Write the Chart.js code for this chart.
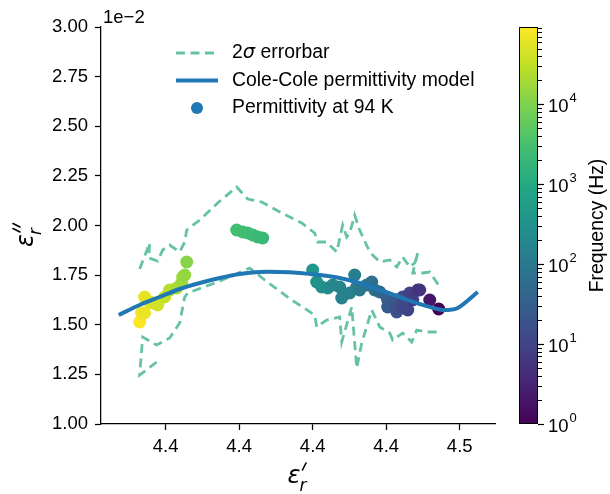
<!DOCTYPE html>
<html>
<head>
<meta charset="utf-8">
<script src="https://cdn.jsdelivr.net/npm/chart.js@4.4.1/dist/chart.umd.min.js"></script>
<style>
  html, body { margin: 0; padding: 0; background: #ffffff; }
  canvas { display: block; }
</style>
</head>
<body>
<canvas id="chart" width="610" height="494"></canvas>
<script>
// Measured permittivity at 94 K (eps'' shown in units of 1e-2)
const epsReal = [
  4.40646, 4.40673, 4.40714, 4.40714, 4.40782, 4.40823, 4.40891, 4.40986, 4.41054, 4.41150,
  4.41218, 4.41231, 4.41259, 4.41286, 4.41966, 4.42048, 4.42116, 4.42184, 4.42252, 4.42320,
  4.43000, 4.43054, 4.43122, 4.43204, 4.43272, 4.43367, 4.43395, 4.43503, 4.43571, 4.43599,
  4.43639, 4.43735, 4.43803, 4.43844, 4.43912, 4.44007, 4.44020, 4.44020, 4.44143, 4.44143,
  4.44156, 4.44224, 4.44224, 4.44293, 4.44320, 4.44361, 4.44429, 4.44456, 4.44592, 4.44714
];
const epsImag = [
  1.5139, 1.5592, 1.5592, 1.6398, 1.6146, 1.6096, 1.5995, 1.6398, 1.6751, 1.6851,
  1.7103, 1.7406, 1.7506, 1.8161, 1.9773, 1.9673, 1.9622, 1.9521, 1.9421, 1.9370,
  1.7758, 1.7154, 1.6902, 1.6851, 1.7003, 1.6902, 1.6348, 1.6599, 1.7506, 1.6902,
  1.6751, 1.7003, 1.7154, 1.6751, 1.6650, 1.6398, 1.6247, 1.5894, 1.6247, 1.5642,
  1.5844, 1.6398, 1.5894, 1.5743, 1.6599, 1.6247, 1.6751, 1.6751, 1.6247, 1.5793
];
const freqHz = [
  93000, 74000, 66000, 59000, 52500, 47000, 42000, 33000, 26500, 21000,
  18800, 16700, 14900, 12000, 3000, 2700, 2500, 2400, 2250, 2140,
  382, 340, 305, 245, 194, 173, 154, 137, 122, 109,
  97, 77, 69, 61, 49, 35, 31, 25, 22, 17.5,
  15.6, 12.4, 11, 9.8, 8.8, 7.8, 6.3, 5.6, 2.0, 1.0
];

// Cole-Cole model curve
const modelReal = [4.40361, 4.40646, 4.40918, 4.41190, 4.41463, 4.41735, 4.42007, 4.42279, 4.42551, 4.42823,
                   4.43095, 4.43367, 4.43639, 4.43912, 4.44184, 4.44456, 4.44769, 4.44973, 4.45245];
const modelImag = [1.5491, 1.5995, 1.6398, 1.6801, 1.7103, 1.7355, 1.7557, 1.7657, 1.7657, 1.7607,
                   1.7506, 1.7355, 1.7103, 1.6751, 1.6398, 1.6045, 1.5743, 1.5844, 1.6650];

// 2-sigma error envelope (upper and lower)
const upperReal = [4.40646, 4.40782, 4.40769, 4.40891, 4.40959, 4.41054, 4.41190, 4.41259, 4.41286, 4.41463,
                   4.41707, 4.41966, 4.42116, 4.42306, 4.42578, 4.42850, 4.43027, 4.43068, 4.43190, 4.43327,
                   4.43408, 4.43463, 4.43503, 4.43571, 4.43639, 4.43776, 4.43912, 4.44048, 4.44143, 4.44224,
                   4.44320, 4.44388, 4.44429, 4.44361, 4.44497, 4.44592, 4.44728];
const upperImag = [1.7809, 1.9118, 1.8363, 1.8212, 1.8766, 1.9018, 1.8665, 1.9169, 1.9773, 2.0277,
                   2.1134, 2.1940, 2.1335, 2.1184, 2.0630, 2.0126, 1.9622, 1.9169, 1.9169, 1.8665,
                   2.0025, 1.9421, 1.9622, 2.0529, 1.9773, 1.8665, 1.8161, 1.8262, 1.7909, 1.8413,
                   1.7909, 1.8111, 1.8615, 1.7607, 1.7607, 1.7657, 1.6902];
const lowerReal = [4.40878, 4.40646, 4.40687, 4.40878, 4.41054, 4.41190, 4.41259, 4.41299, 4.41707, 4.42143,
                   4.42347, 4.42714, 4.43027, 4.43054, 4.43190, 4.43367, 4.43395, 4.43531, 4.43599, 4.43667,
                   4.43803, 4.43912, 4.44048, 4.44088, 4.44224, 4.44347, 4.44415, 4.44551, 4.44701];
const lowerImag = [1.3123, 1.2469, 1.4383, 1.3980, 1.4332, 1.5088, 1.6398, 1.6599, 1.7154, 1.7859,
                   1.7254, 1.6247, 1.5491, 1.4887, 1.5239, 1.5390, 1.4131, 1.5894, 1.2821, 1.4081,
                   1.5743, 1.4887, 1.4584, 1.4232, 1.4584, 1.4131, 1.4736, 1.4635, 1.4635];

// Axis ticks
const xTickValues = [4.41, 4.42, 4.43, 4.44, 4.45];
const xTickLabels = ['4.4', '4.4', '4.4', '4.4', '4.5'];
const yTickValues = [1.00, 1.25, 1.50, 1.75, 2.00, 2.25, 2.50, 2.75, 3.00];
const cbarDecades = [0, 1, 2, 3, 4];
const freqMin = 1;
const freqMax = 93000;

// viridis colormap (deciles)
const VIRIDIS = ['#440154', '#482475', '#414487', '#355f8d', '#2a788e', '#21918c',
                 '#22a884', '#44bf70', '#7ad151', '#bddf26', '#fde725'];
function hexToRgb(h) {
  return [parseInt(h.slice(1, 3), 16), parseInt(h.slice(3, 5), 16), parseInt(h.slice(5, 7), 16)];
}
function viridis(t) {
  t = Math.min(1, Math.max(0, t));
  const s = t * 10;
  const i = Math.min(9, Math.floor(s));
  const f = s - i;
  const a = hexToRgb(VIRIDIS[i]), b = hexToRgb(VIRIDIS[i + 1]);
  const c = a.map((v, k) => Math.round(v + (b[k] - v) * f));
  return `rgb(${c[0]},${c[1]},${c[2]})`;
}
function freqNorm(f) {
  return (Math.log10(f) - Math.log10(freqMin)) / (Math.log10(freqMax) - Math.log10(freqMin));
}

const SANS = '"Liberation Sans", Arial, Helvetica, sans-serif';
const MATH = '"DejaVu Sans", sans-serif';
const ERR_COLOR = '#66c2a5';
const MODEL_COLOR = '#1f77b4';

function zip(xs, ys) { return xs.map((x, i) => ({ x: x, y: ys[i] })); }

// eps symbol with prime strokes and subscript r
function drawEps(ctx, cx, cy, nPrimes, rot) {
  ctx.save();
  ctx.translate(cx, cy);
  ctx.rotate(rot);
  ctx.textAlign = 'left';
  ctx.textBaseline = 'alphabetic';
  ctx.fillStyle = '#000';
  ctx.strokeStyle = '#000';
  ctx.font = 'italic 24px ' + MATH;
  const we = ctx.measureText('\u03b5').width;
  ctx.font = 'italic 17px ' + MATH;
  const wr = ctx.measureText('r').width;
  const wp = 3 + nPrimes * 5;
  const total = we + Math.max(wp, wr);
  const x0 = -total / 2;
  ctx.font = 'italic 24px ' + MATH;
  ctx.fillText('\u03b5', x0, 5);
  // slanted prime strokes
  ctx.lineWidth = 1.6;
  ctx.lineCap = 'round';
  for (let k = 0; k < nPrimes; k++) {
    const px = x0 + we + 2 + k * 5;
    ctx.beginPath();
    ctx.moveTo(px + 3.5, -15);
    ctx.lineTo(px, -8);
    ctx.stroke();
  }
  ctx.font = 'italic 17px ' + MATH;
  ctx.fillText('r', x0 + we - 1, 13);
  ctx.restore();
}

const decor = {
  id: 'decor',
  afterDraw(chart) {
    const ctx = chart.ctx;
    const ca = chart.chartArea;
    ctx.save();
    ctx.fillStyle = '#000';

    // offset text for the y axis
    ctx.font = '18.5px ' + SANS;
    ctx.textAlign = 'left';
    ctx.textBaseline = 'alphabetic';
    ctx.fillText('1e\u22122', ca.left + 2, 23);

    // axis labels
    drawEps(ctx, (ca.left + ca.right) / 2, 478, 1, 0);
    drawEps(ctx, 28, 234, 2, -Math.PI / 2);

    // legend
    const lx0 = 176, lx1 = 218, tx = 232;
    const rows = [53, 80.5, 108];
    ctx.lineCap = 'butt';
    ctx.strokeStyle = ERR_COLOR;
    ctx.lineWidth = 2.8;
    ctx.setLineDash([9, 5.5]);
    ctx.beginPath(); ctx.moveTo(lx0, rows[0]); ctx.lineTo(lx1, rows[0]); ctx.stroke();
    ctx.setLineDash([]);
    ctx.strokeStyle = MODEL_COLOR;
    ctx.lineWidth = 4;
    ctx.beginPath(); ctx.moveTo(lx0, rows[1]); ctx.lineTo(lx1, rows[1]); ctx.stroke();
    ctx.fillStyle = MODEL_COLOR;
    ctx.beginPath(); ctx.arc((lx0 + lx1) / 2, rows[2], 6, 0, Math.PI * 2); ctx.fill();

    ctx.fillStyle = '#000';
    ctx.textBaseline = 'middle';
    ctx.font = '19.4px ' + SANS;
    let x = tx;
    ctx.fillText('2', x, rows[0]); x += ctx.measureText('2').width;
    ctx.font = 'italic 19.4px ' + MATH;
    ctx.fillText('\u03c3', x, rows[0]); x += ctx.measureText('\u03c3').width;
    ctx.font = '19.4px ' + SANS;
    ctx.fillText(' errorbar', x, rows[0]);
    ctx.fillText('Cole-Cole permittivity model', tx, rows[1]);
    ctx.fillText('Permittivity at 94 K', tx, rows[2]);

    // colorbar
    const cb = { left: 519, right: 538, top: ca.top, bottom: ca.bottom };
    const grad = ctx.createLinearGradient(0, cb.bottom, 0, cb.top);
    for (let i = 0; i <= 50; i++) grad.addColorStop(i / 50, viridis(i / 50));
    ctx.fillStyle = grad;
    ctx.fillRect(cb.left, cb.top, cb.right - cb.left, cb.bottom - cb.top);
    ctx.strokeStyle = '#000';
    ctx.lineWidth = 1;
    ctx.strokeRect(cb.left + 0.5, cb.top + 0.5, cb.right - cb.left - 1, cb.bottom - cb.top - 1);

    const yOf = f => cb.bottom - freqNorm(f) * (cb.bottom - cb.top);
    ctx.lineWidth = 1;
    for (let d = 0; d <= 4; d++) {
      for (let m = 2; m <= 9; m++) {
        const f = m * Math.pow(10, d);
        if (f > freqMax) continue;
        const y = Math.round(yOf(f)) + 0.5;
        ctx.beginPath(); ctx.moveTo(cb.right, y); ctx.lineTo(cb.right + 4, y); ctx.stroke();
      }
    }
    ctx.lineWidth = 1.2;
    cbarDecades.forEach(d => {
      const y = Math.round(yOf(Math.pow(10, d))) + 0.5;
      ctx.beginPath(); ctx.moveTo(cb.right, y); ctx.lineTo(cb.right + 6, y); ctx.stroke();
      ctx.fillStyle = '#000';
      ctx.textBaseline = 'middle';
      ctx.font = '18.5px ' + SANS;
      ctx.fillText('10', 548, y + 2);
      const w = ctx.measureText('10').width;
      ctx.font = '13px ' + SANS;
      ctx.fillText(String(d), 548 + w + 1, y - 6);
    });

    ctx.save();
    ctx.translate(598, (cb.top + cb.bottom) / 2);
    ctx.rotate(-Math.PI / 2);
    ctx.textAlign = 'center';
    ctx.textBaseline = 'middle';
    ctx.font = '19.4px ' + SANS;
    ctx.fillStyle = '#000';
    ctx.fillText('Frequency (Hz)', 0, 0);
    ctx.restore();

    ctx.restore();
  }
};

Chart.defaults.font.family = SANS;
Chart.defaults.color = '#000';

new Chart(document.getElementById('chart'), {
  type: 'scatter',
  data: {
    datasets: [
      {
        label: 'Cole-Cole permittivity model',
        data: zip(modelReal, modelImag),
        showLine: true,
        borderColor: MODEL_COLOR,
        borderWidth: 4,
        pointRadius: 0,
        tension: 0.25,
        order: 0
      },
      {
        label: 'Permittivity at 94 K',
        data: zip(epsReal, epsImag),
        pointRadius: 6.5,
        pointBorderWidth: 0,
        borderWidth: 0,
        backgroundColor: freqHz.map(f => viridis(freqNorm(f))),
        pointBackgroundColor: freqHz.map(f => viridis(freqNorm(f))),
        order: 1
      },
      {
        label: '2\u03c3 errorbar',
        data: zip(upperReal, upperImag),
        showLine: true,
        borderColor: ERR_COLOR,
        borderWidth: 2.8,
        borderDash: [9, 5.5],
        pointRadius: 0,
        order: 2
      },
      {
        label: '2\u03c3 errorbar (lower)',
        data: zip(lowerReal, lowerImag),
        showLine: true,
        borderColor: ERR_COLOR,
        borderWidth: 2.8,
        borderDash: [9, 5.5],
        pointRadius: 0,
        order: 3
      }
    ]
  },
  options: {
    responsive: false,
    animation: false,
    devicePixelRatio: 1,
    events: [],
    layout: { padding: { top: 27, right: 115, bottom: 0, left: 0 } },
    plugins: { legend: { display: false }, tooltip: { enabled: false } },
    scales: {
      x: {
        type: 'linear',
        min: 4.4012,
        max: 4.4548,
        afterBuildTicks: s => { s.ticks = xTickValues.map(v => ({ value: v })); },
        afterFit: s => { s.height = 70; },
        ticks: {
          autoSkip: false,
          maxRotation: 0,
          padding: 6,
          font: { size: 18.5 },
          color: '#000',
          callback: (v, i) => xTickLabels[i]
        },
        grid: { drawOnChartArea: false, drawTicks: true, tickLength: 6, tickColor: '#000', tickWidth: 1.25 },
        border: { display: true, color: '#000', width: 1.25 }
      },
      y: {
        type: 'linear',
        min: 1,
        max: 3,
        afterBuildTicks: s => { s.ticks = yTickValues.map(v => ({ value: v })); },
        afterFit: s => { s.width = 101; },
        ticks: {
          padding: 7,
          font: { size: 18.5 },
          color: '#000',
          callback: v => v.toFixed(2)
        },
        grid: { drawOnChartArea: false, drawTicks: true, tickLength: 6, tickColor: '#000', tickWidth: 1.25 },
        border: { display: true, color: '#000', width: 1.25 }
      }
    }
  },
  plugins: [decor]
});
</script>
</body>
</html>
